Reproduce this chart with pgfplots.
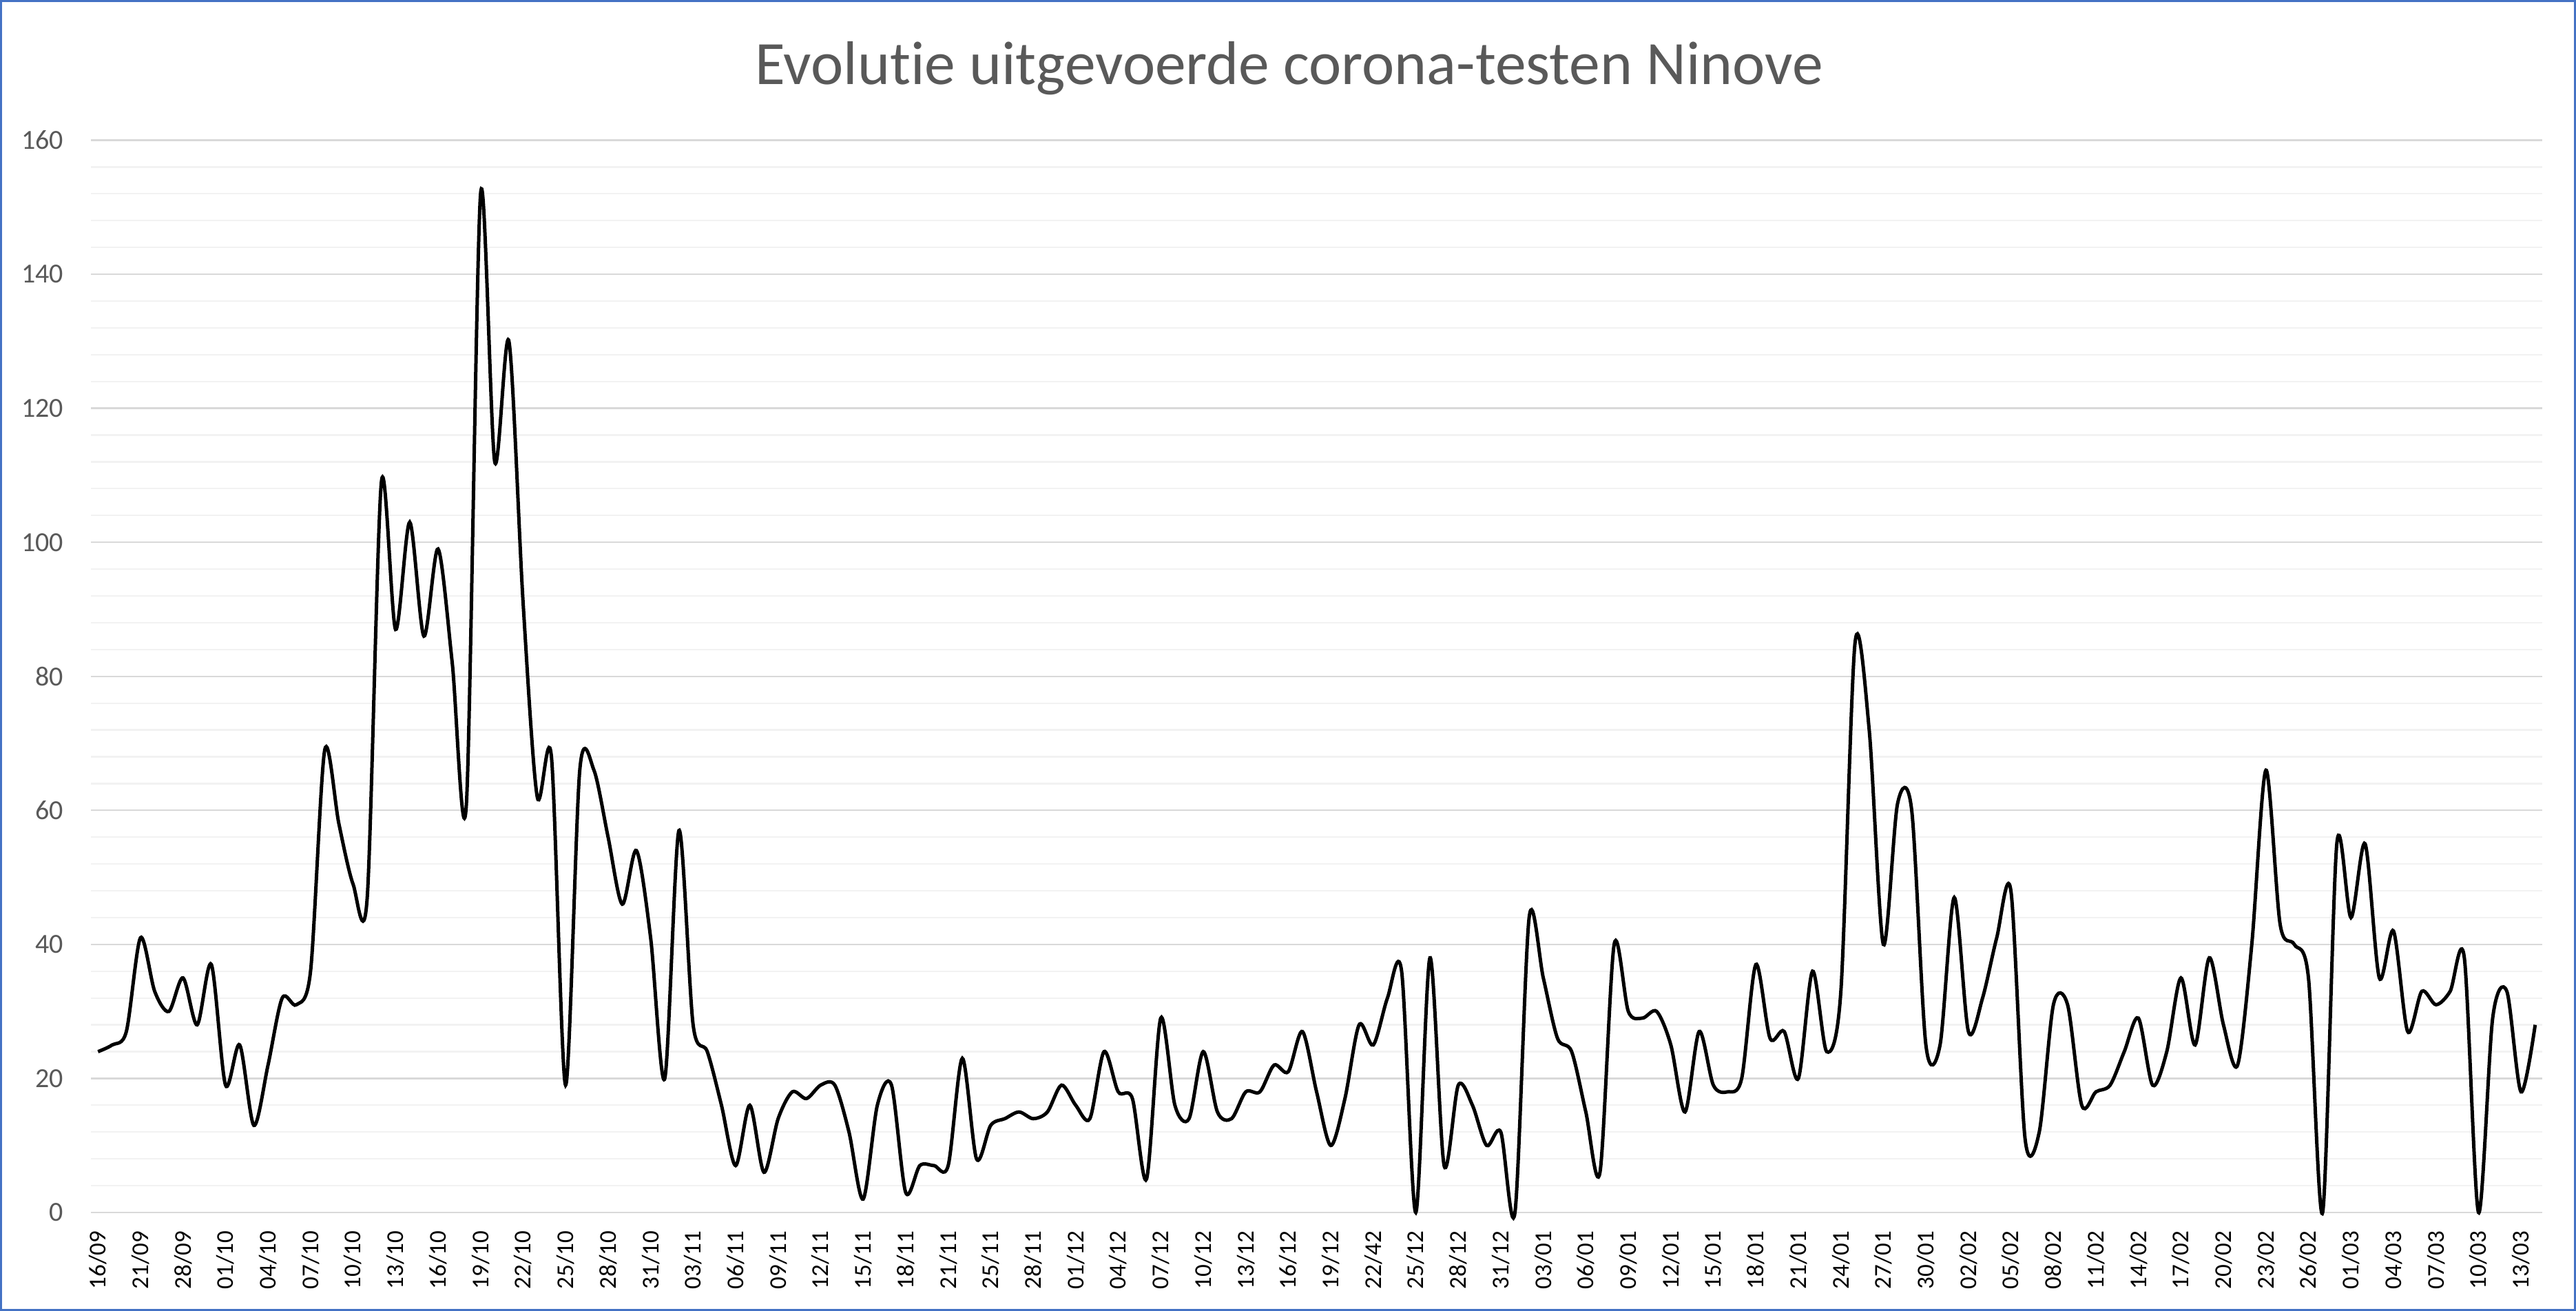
\documentclass[border=0pt]{standalone}
\usepackage{pgfplots}
\pgfplotsset{compat=1.18}
\usepackage{fontspec}
\setmainfont{Carlito}[Ligatures=NoCommon, RawFeature={-liga;-calt;-dlig}]
\definecolor{txtgray}{HTML}{595959}
\definecolor{majgrid}{HTML}{D9D9D9}
\definecolor{mingrid}{HTML}{F2F2F2}
\definecolor{frameblue}{HTML}{4472C4}
\pgfplotstableread{
i v
0 24
1 25
2 27
3 41
4 33
5 30
6 35
7 28
8 37
9 19
10 25
11 13
12 22
13 32
14 31
15 36
16 69
17 58
18 49
19 47
20 109
21 87
22 103
23 86
24 99
25 82
26 61
27 152
28 112
29 130
30 91
31 62
32 68
33 19
34 66
35 66
36 56
37 46
38 54
39 41
40 20
41 57
42 28
43 24
44 16
45 7
46 16
47 6
48 14
49 18
50 17
51 19
52 19
53 12
54 2
55 16
56 19
57 3
58 7
59 7
60 7
61 23
62 8
63 13
64 14
65 15
66 14
67 15
68 19
69 16
70 14
71 24
72 18
73 17
74 5
75 29
76 16
77 14
78 24
79 15
80 14
81 18
82 18
83 22
84 21
85 27
86 18
87 10
88 17
89 28
90 25
91 32
92 36
93 0
94 38
95 7
96 19
97 16
98 10
99 12
100 0
101 44
102 35
103 26
104 24
105 15
106 6
107 40
108 30
109 29
110 30
111 25
112 15
113 27
114 19
115 18
116 20
117 37
118 26
119 27
120 20
121 36
122 24
123 33
124 85
125 72
126 40
127 61
128 60
129 25
130 25
131 47
132 27
133 32
134 41
135 48
136 11
137 12
138 31
139 31
140 16
141 18
142 19
143 24
144 29
145 19
146 24
147 35
148 25
149 38
150 28
151 22
152 40
153 66
154 43
155 40
156 35
157 0
158 55
159 44
160 55
161 35
162 42
163 27
164 33
165 31
166 33
167 38
168 0
169 29
170 33
171 18
172 28
}\datatable
\begin{document}
\begin{tikzpicture}
\path[use as bounding box] (0,0) rectangle (748pt,380.6pt);
\fill[white] (0,0) rectangle (748pt,380.6pt);
\node[anchor=base, font=\fontsize{17.9}{21}\selectfont, text=txtgray, inner sep=0pt] at (374.3pt,356.1pt) {Evolut\kern0pt ie uitgevoerde corona-testen Ninove};
\begin{axis}[
  at={(26.4pt,28.6pt)}, anchor=south west,
  scale only axis, width=711.8pt, height=311.3pt,
  xmin=-0.5, xmax=172.5, ymin=0, ymax=160,
  axis line style={draw=none},
  major tick length=0pt, minor tick length=0pt,
  ytick={0,20,...,160},
  minor y tick num=4,
  ymajorgrids, yminorgrids,
  major grid style={draw=majgrid, line width=0.45pt},
  minor grid style={draw=mingrid, line width=0.45pt},
  xtick={0,3,...,171},
  xticklabels={16/09,21/09,28/09,01/10,04/10,07/10,10/10,13/10,16/10,19/10,22/10,25/10,28/10,31/10,03/11,06/11,09/11,12/11,15/11,18/11,21/11,25/11,28/11,01/12,04/12,07/12,10/12,13/12,16/12,19/12,22/42,25/12,28/12,31/12,03/01,06/01,09/01,12/01,15/01,18/01,21/01,24/01,27/01,30/01,02/02,05/02,08/02,11/02,14/02,17/02,20/02,23/02,26/02,01/03,04/03,07/03,10/03,13/03},
  x tick label style={rotate=90, anchor=east, inner sep=0pt, font=\fontsize{7}{8}\selectfont, text=black},
  xticklabel shift=5.2pt,
  y tick label style={anchor=east, inner sep=0pt, font=\fontsize{8}{9.6}\selectfont, text=txtgray},
  yticklabel shift=7.8pt,
  /pgf/number format/assume math mode=true,
  clip=false,
]
\addplot[black, line width=1pt, smooth, tension=0.5] table[x=i, y=v] {\datatable};
\end{axis}
\draw[frameblue, line width=0.6pt] (0.3pt,0.3pt) rectangle (747.7pt,380.3pt);
\end{tikzpicture}
\end{document}
